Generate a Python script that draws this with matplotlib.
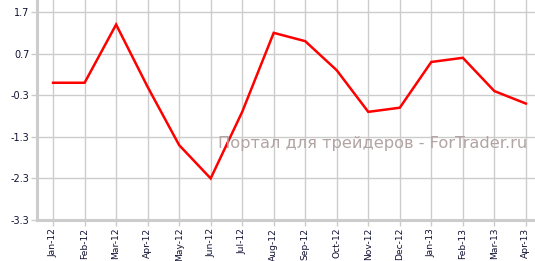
import matplotlib
matplotlib.use("Agg")
import matplotlib.pyplot as plt

months = ["Jan-12", "Feb-12", "Mar-12", "Apr-12", "May-12", "Jun-12", "Jul-12", "Aug-12",
          "Sep-12", "Oct-12", "Nov-12", "Dec-12", "Jan-13", "Feb-13", "Mar-13", "Apr-13"]
values = [0.0, 0.0, 1.4, -0.1, -1.5, -2.3, -0.7, 1.2, 1.0, 0.3, -0.7, -0.6, 0.5, 0.6, -0.2, -0.5]
yticks = [-3.3, -2.3, -1.3, -0.3, 0.7, 1.7]

GRID = "#cccccc"

fig = plt.figure(figsize=(5.35, 2.61), dpi=100)
ax = fig.add_axes([37 / 535, 41 / 261, 1 - 37 / 535, 1 - 41 / 261])
x = list(range(len(months)))
ax.plot(x, values, color="#ff0000", lw=1.8, zorder=3, solid_joinstyle="miter")

ax.set_xlim(-0.51, 15.29)
ax.set_ylim(-3.3, 1.99)
ax.set_xticks(x)
ax.set_xticklabels(months, rotation=90, fontsize=6.6, family="DejaVu Sans")
ax.set_yticks(yticks)
ax.set_yticklabels([f"{v:.1f}" for v in yticks], fontsize=7, family="DejaVu Sans")
ax.grid(True, color=GRID, lw=1, zorder=0)

for side in ("top", "right"):
    ax.spines[side].set_visible(False)
for side in ("left", "bottom"):
    ax.spines[side].set_color(GRID)
    ax.spines[side].set_linewidth(2.2)
ax.tick_params(axis="both", colors=GRID, length=4, width=1, labelcolor="#111133", pad=1.5)

fig.text(0.696, 0.452, "Портал для трейдеров - ForTrader.ru", ha="center", va="center",
         fontsize=11.7, color="#b3a4a4", family="DejaVu Sans", zorder=5)

fig.savefig("out.png", dpi=100)
